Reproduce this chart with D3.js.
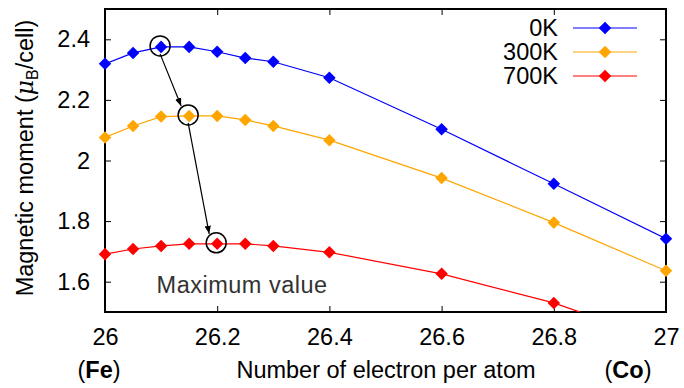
<!DOCTYPE html>
<html>
<head>
<meta charset="utf-8">
<script src="https://cdn.jsdelivr.net/npm/d3@7"></script>
<style>
  body { margin: 0; background: #fff; }
  svg { display: block; font-family: "Liberation Sans", Arial, sans-serif; }
</style>
</head>
<body>
<svg width="684" height="388"></svg>
<script>
// DATA
var electrons = [26, 26.05, 26.1, 26.15, 26.2, 26.25, 26.3, 26.4, 26.6, 26.8, 27];
var moment0K = [2.319, 2.355, 2.375, 2.375, 2.359, 2.338, 2.326, 2.273, 2.103, 1.923, 1.742];
var moment300K = [2.076, 2.114, 2.145, 2.147, 2.147, 2.134, 2.114, 2.067, 1.942, 1.795, 1.636];
var moment700K = [1.691, 1.708, 1.718, 1.725, 1.725, 1.725, 1.718, 1.697, 1.626, 1.530, 1.400];
var xTicks = [26, 26.2, 26.4, 26.6, 26.8, 27];
var yTicks = [1.6, 1.8, 2, 2.2, 2.4];
var seriesNames = ["0K", "300K", "700K"];
var seriesColors = ["#0000ff", "#ffa500", "#ff0000"];
// circled maxima: [series index, point index]
var maxima = [[0, 2], [1, 3], [2, 4]];

// SETUP
var fs = 23.5;
var svg = d3.select("svg"),
  margin = { top: 9, right: 18, bottom: 76, left: 105 },
  width = 684 - margin.left - margin.right,
  height = 388 - margin.top - margin.bottom;

var x = d3.scaleLinear().domain([26, 27]).range([0, width]),
  y = d3.scaleLinear().domain([1.5, 2.5]).range([height, 0]);

var series = [moment0K, moment300K, moment700K].map(function (vals, i) {
  return {
    name: seriesNames[i],
    color: seriesColors[i],
    values: vals.map(function (v, j) { return { x: electrons[j], y: v }; })
  };
});

svg.append("defs").append("clipPath").attr("id", "clip")
  .append("rect").attr("width", width).attr("height", height);

svg.select("defs").append("marker")
  .attr("id", "arrow")
  .attr("viewBox", "0 0 10 10")
  .attr("refX", 10).attr("refY", 5)
  .attr("markerWidth", 8).attr("markerHeight", 8)
  .attr("markerUnits", "userSpaceOnUse")
  .attr("orient", "auto")
  .append("path").attr("d", "M0,1L10,5L0,9Z").attr("fill", "#000");

var g = svg.append("g")
  .attr("transform", "translate(" + margin.left + "," + margin.top + ")");

// axes (ticks inward, mirrored)
var tl = 6;
g.append("g").attr("class", "axis axis--x")
  .attr("transform", "translate(0," + height + ")")
  .call(d3.axisBottom(x).tickValues(xTicks).tickSize(-tl).tickPadding(16).tickFormat(d3.format("")));
g.append("g").attr("class", "axis axis--x2")
  .call(d3.axisTop(x).tickValues(xTicks).tickSize(-tl).tickFormat(""));
g.append("g").attr("class", "axis axis--y")
  .call(d3.axisLeft(y).tickValues(yTicks).tickSize(-tl).tickPadding(15).tickFormat(d3.format("")));
g.append("g").attr("class", "axis axis--y2")
  .attr("transform", "translate(" + width + ",0)")
  .call(d3.axisRight(y).tickValues(yTicks).tickSize(-tl).tickFormat(""));

g.selectAll(".axis path.domain").remove();
g.selectAll(".axis line").attr("stroke", "#000").attr("stroke-width", 1);
g.selectAll(".axis text").attr("font-size", fs).attr("fill", "#000")
  .attr("font-family", "Liberation Sans, Arial, sans-serif");

g.append("rect")
  .attr("width", width).attr("height", height)
  .attr("fill", "none").attr("stroke", "#000").attr("stroke-width", 2);

// lines and markers
var line = d3.line()
  .x(function (d) { return x(d.x); })
  .y(function (d) { return y(d.y); });

var plot = g.append("g").attr("clip-path", "url(#clip)");
var diamond = d3.symbol().type(d3.symbolDiamond2).size(100);

series.forEach(function (s) {
  plot.append("path")
    .datum(s.values)
    .attr("fill", "none")
    .attr("stroke", s.color)
    .attr("stroke-width", 1.2)
    .attr("d", line);
});
series.forEach(function (s) {
  g.selectAll(".dot-" + s.name)
    .data(s.values.filter(function (d) { return y(d.y) <= height + 1; }))
    .enter().append("path")
    .attr("transform", function (d) { return "translate(" + x(d.x) + "," + y(d.y) + ")"; })
    .attr("d", diamond)
    .attr("fill", s.color);
});

// circled maxima and arrows
var r = 10;
var centers = maxima.map(function (m) {
  var d = series[m[0]].values[m[1]];
  return [x(d.x) - 1, y(d.y) - 1];
});
centers.forEach(function (c) {
  g.append("circle").attr("cx", c[0]).attr("cy", c[1]).attr("r", r)
    .attr("fill", "none").attr("stroke", "#000").attr("stroke-width", 1.5);
});
for (var i = 0; i < centers.length - 1; i++) {
  var a = centers[i], b = centers[i + 1];
  g.append("line")
    .attr("x1", a[0]).attr("y1", a[1] + r - 2)
    .attr("x2", b[0] - 7).attr("y2", b[1] - r + 1)
    .attr("stroke", "#000").attr("stroke-width", 1.2)
    .attr("marker-end", "url(#arrow)");
}

g.append("text")
  .attr("x", x(26.092)).attr("y", y(1.563))
  .attr("font-size", fs).attr("fill", "#333")
  .attr("letter-spacing", 0.5)
  .text("Maximum value");

// legend
var legend = g.append("g").attr("transform", "translate(" + (558 - margin.left) + ",0)");
series.forEach(function (s, i) {
  var ly = 28 - margin.top + i * 24;
  legend.append("text").attr("x", 0).attr("y", ly).attr("dy", "0.35em")
    .attr("text-anchor", "end").attr("font-size", fs).attr("fill", "#000")
    .text(s.name);
  legend.append("line").attr("x1", 15).attr("x2", 79).attr("y1", ly).attr("y2", ly)
    .attr("stroke", s.color).attr("stroke-width", 1.2);
  legend.append("path").attr("transform", "translate(47," + ly + ")")
    .attr("d", diamond).attr("fill", s.color);
});

// axis titles
svg.append("text")
  .attr("x", 386).attr("y", 378)
  .attr("text-anchor", "middle").attr("font-size", fs)
  .text("Number of electron per atom");

var fe = svg.append("text").attr("x", 99).attr("y", 378)
  .attr("text-anchor", "middle").attr("font-size", fs);
fe.append("tspan").text("(");
fe.append("tspan").attr("font-weight", "bold").text("Fe");
fe.append("tspan").text(")");

var co = svg.append("text").attr("x", 628).attr("y", 378)
  .attr("text-anchor", "middle").attr("font-size", fs);
co.append("tspan").text("(");
co.append("tspan").attr("font-weight", "bold").text("Co");
co.append("tspan").text(")");

var yl = svg.append("text")
  .attr("transform", "translate(33,158) rotate(-90)")
  .attr("text-anchor", "middle").attr("font-size", fs);
yl.append("tspan").text("Magnetic moment (");
yl.append("tspan").attr("font-style", "italic").attr("font-family", "DejaVu Serif, serif").text("μ");
yl.append("tspan").attr("font-size", 16).attr("dy", 5).text("B");
yl.append("tspan").attr("dy", -5).text("/cell)");
</script>
</body>
</html>
